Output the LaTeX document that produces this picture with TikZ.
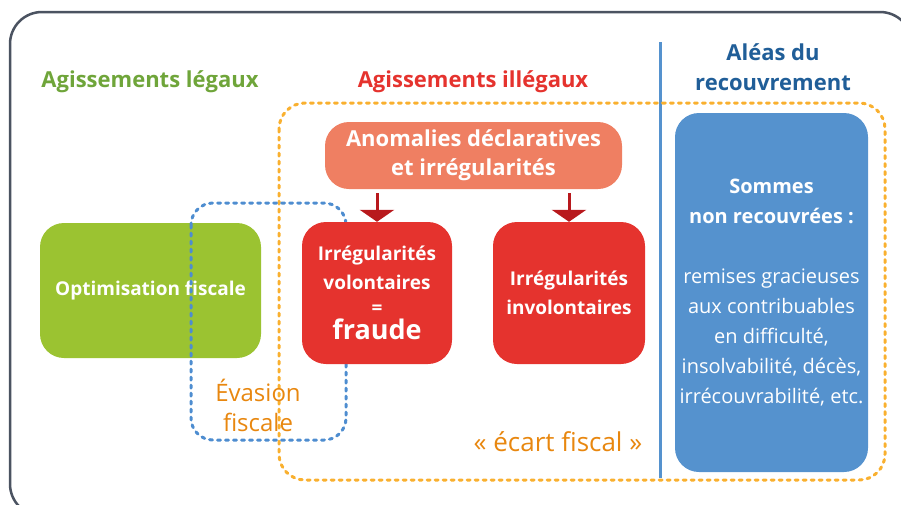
\documentclass[tikz,border=0pt]{standalone}
\usepackage{fontspec}
\setmainfont{Open Sans}
\usetikzlibrary{arrows.meta}

\definecolor{cadreGris}{HTML}{4B5361}
\definecolor{vertBoite}{HTML}{9BC331}
\definecolor{vertTexte}{HTML}{6FA53A}
\definecolor{rougeBoite}{HTML}{E5332E}
\definecolor{rougeTexte}{HTML}{E5332E}
\definecolor{saumon}{HTML}{EF7F62}
\definecolor{rougeFleche}{HTML}{B8191D}
\definecolor{bleuBoite}{HTML}{5592CE}
\definecolor{bleuTexte}{HTML}{205E98}
\definecolor{bleuPoint}{HTML}{4E8DD0}
\definecolor{orangePoint}{HTML}{F9B02F}
\definecolor{orangeTexte}{HTML}{E8870F}

\tikzset{
  titre/.style={font=\fontsize{22}{30}\selectfont\bfseries},
  boite/.style={rounded corners=24pt,text=white,font=\fontsize{19}{29}\selectfont\bfseries},
  pointille/.style={line width=3pt,line cap=round,dash pattern=on 3pt off 5pt,rounded corners=24pt},
  fleche/.style={rougeFleche,line width=3pt,-{Triangle[width=34pt,length=12pt]}}
}

\begin{document}
\begin{tikzpicture}[x=1pt,y=-1pt,every text node part/.style={align=center}]
    \useasboundingbox (0,0) rectangle (901,504);

    % --------------------------------------------------------- %
    % ------------- cadre general
    % --------------------------------------------------------- %
    \draw[cadreGris,line width=2.5pt,rounded corners=32pt] (10,12) rectangle (912,516);

    % --------------------------------------------------------- %
    % ------------- titres des colonnes
    % --------------------------------------------------------- %
    \node[titre,text=vertTexte] (legaux) at (150,82) {Agissements légaux};
    \node[titre,text=rougeTexte] (illegaux) at (473,82) {Agissements illégaux};
    \node[titre,text=bleuTexte] (aleas) at (773,67) {Aléas du\\recouvrement};

    % separation
    \coordinate (sepHaut) at (660,42);
    \coordinate (sepBas) at (660,478);
    \draw[bleuBoite,line width=3pt] (sepHaut) -- (sepBas);

    % --------------------------------------------------------- %
    % ------------- agissements legaux
    % --------------------------------------------------------- %
    \node[boite,fill=vertBoite,minimum width=221pt,minimum height=135pt] (optim) at (150.5,290.5) {Optimisation fiscale};

    % --------------------------------------------------------- %
    % ------------- zones en pointilles
    % --------------------------------------------------------- %
    \draw[pointille,orangePoint,rounded corners=26pt] (279,103) rectangle (885,480);
    \draw[pointille,bleuPoint,rounded corners=22pt] (191,203) rectangle (346,440);

    \node[text=orangeTexte,font=\fontsize{24}{30}\selectfont] (evasion) at (258,405) {Évasion\\fiscale};
    \node[text=orangeTexte,font=\fontsize{26}{30}\selectfont] (ecart) at (558,442) {« écart fiscal »};

    % --------------------------------------------------------- %
    % ------------- agissements illegaux
    % --------------------------------------------------------- %
    \node[boite,fill=saumon,minimum width=297pt,minimum height=67pt,font=\fontsize{22}{29}\selectfont\bfseries] (anom) at (473.5,155.5) {Anomalies déclaratives\\et irrégularités};

    \node[boite,fill=rougeBoite,minimum width=150pt,minimum height=142pt] (volont) at (377,293) {Irrégularités\\volontaires\\[-4pt]=\\[-4pt]{\fontsize{27}{30}\selectfont fraude}};
    \node[boite,fill=rougeBoite,minimum width=152pt,minimum height=142pt] (invol) at (569,293) {Irrégularités\\involontaires};

    \draw[fleche] (anom.south -| volont.north) ++(0,4) -- (volont.north);
    \draw[fleche] (anom.south -| invol.north) ++(0,4) -- (invol.north);

    % --------------------------------------------------------- %
    % ------------- aleas du recouvrement
    % --------------------------------------------------------- %
    \node[boite,fill=bleuBoite,minimum width=193pt,minimum height=359pt,font=\fontsize{20}{30}\selectfont] (sommes) at (771.5,292.5) {\textbf{Sommes}\\\textbf{non recouvrées :}\\[30pt]remises gracieuses\\aux contribuables\\en difficulté,\\insolvabilité, décès,\\irrécouvrabilité, etc.};

  \end{tikzpicture}
\end{document}
